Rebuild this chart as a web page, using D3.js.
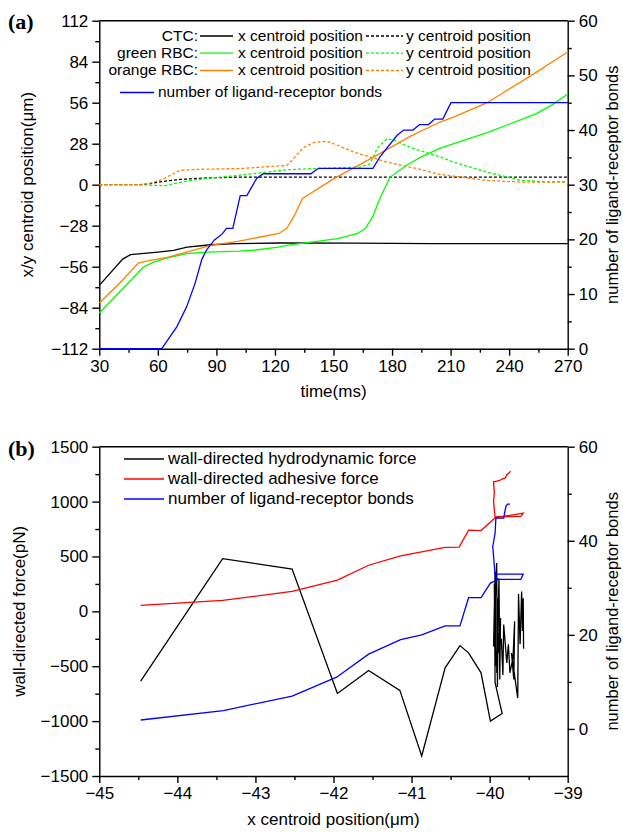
<!DOCTYPE html>
<html>
<head>
<meta charset="utf-8">
<script src="https://cdn.jsdelivr.net/npm/d3@7"></script>
<style>
	body { margin: 0; background: #fff; }
	svg { font-family: 'Liberation Sans', Arial, sans-serif; }
	.axis path, .axis line { stroke: #000; stroke-width: 1.4; }
	.axis text { font-size: 17px; fill: #000; }
	.series { fill: none; stroke-width: 1.3; }
	.dash { stroke-dasharray: 3, 2; }
</style>
</head>
<body>
<svg id="chart" width="623" height="832"></svg>
<script>
// ---- panel (a): time (ms) vs centroid position (um) / bond count ----
const ctcX = [[30, -68.8], [42, -50.8], [46, -47.8], [60, -46], [68, -44.9], [75, -42.6], [87, -41], [100, -40.2], [122, -39.8], [160, -39.9], [200, -40.3], [270, -40.3]]
const ctcY = [[30, 0], [51, 0], [56, 0.7], [64, 2.5], [71.4, 3.6], [85, 4.6], [102, 5.2], [270, 5.2]]
const greenX = [[30, -87.6], [41.5, -71.7], [52.6, -56.3], [57.7, -52.9], [65, -50], [74.8, -47.1], [85, -46], [102, -45.3], [110, -44.6], [121.7, -42.6], [126, -41.5], [152, -36.9], [162, -33.5], [166.3, -30], [170, -22], [174, -8.5], [179, 5.2], [187.6, 13.5], [195, 19], [204.7, 25], [228.7, 35.5], [254, 48.5], [262, 54.5], [270, 62]]
const greenY = [[30, 0], [51, 0], [58, -0.5], [64, -0.6], [70, 1.2], [76.5, 2.9], [92, 5.2], [102, 6.5], [126, 10.2], [138, 10.9], [163.7, 12], [168.8, 14.3], [172.3, 24.6], [177.4, 31.4], [180.8, 30.5], [189.4, 25.3], [204.7, 19], [211.5, 15.4], [228.7, 8.6], [245.8, 3], [258, 2], [270, 1.8]]
const orangeX = [[30, -80.8], [40.6, -67], [50, -53.5], [56, -51.7], [65.4, -49.4], [78, -44.9], [87, -41.5], [101, -38.7], [122, -33.3], [126, -30], [130, -21], [134, -9.6], [150, 4], [170, 18.5], [190, 33.5], [204.7, 42.8], [211.5, 46.2], [228.7, 56], [250, 73.5], [270, 90.6]]
const orangeY = [[30, 0], [51, 0], [56, 1], [62, 3.5], [71.4, 9.8], [80, 10.5], [102, 11], [126, 13.2], [128.7, 16.6], [134.6, 25.3], [140, 28.8], [145, 29.5], [148.3, 29], [160.3, 22.3], [177.4, 15.4], [194.5, 10.5], [204.7, 7], [211.5, 5.9], [228.7, 2.9], [245.8, 1.8], [270, 1.8]]
const bondsA = [[30, 0], [62, 0], [69.7, 4], [74.8, 7.7], [79.1, 12], [82.5, 16.3], [85, 18.1], [89, 19.9], [93, 21], [95.2, 22], [98.4, 22], [102.2, 28], [105.6, 28], [110.7, 31.2], [114, 32], [138.4, 32], [142.3, 33], [170.2, 33], [174, 35.2], [182.5, 39], [185.9, 40], [190.7, 40], [194.1, 41], [198.7, 41], [201.8, 42], [206, 42], [210.2, 45], [270, 45]]

const timeTicks = [30, 60, 90, 120, 150, 180, 210, 240, 270]
const posTicks = [-112, -84, -56, -28, 0, 28, 56, 84, 112]
const bondTicksA = [0, 10, 20, 30, 40, 50, 60]

// ---- panel (b): x centroid (um) vs wall-directed force (pN) / bond count ----
const hydroForce = [[-44.47, -636], [-43.42, 480], [-42.53, 385], [-41.95, -748], [-41.55, -539], [-41.15, -720], [-40.87, -1318], [-40.57, -515], [-40.38, -312], [-40.27, -378], [-40.11, -560], [-39.99, -1000], [-39.84, -930],
	[-39.93, -650], [-39.94, 250], [-39.92, -500], [-39.93, 360], [-39.95, -320], [-39.91, 440], [-39.9, -690], [-39.89, 120], [-39.91, -560], [-39.88, 300], [-39.87, -620], [-39.86, -60], [-39.9, -400], [-39.85, -250], [-39.83, -580], [-39.82, -120], [-39.78, -470], [-39.76, -300], [-39.74, -560], [-39.7, -420], [-39.68, -90], [-39.69, -620], [-39.72, -380], [-39.64, -790], [-39.63, 160], [-39.61, -300], [-39.59, 180], [-39.58, -180], [-39.57, 120], [-39.565, -340]]
const adhesiveForce = [[-44.47, 55], [-43.42, 100], [-42.53, 182], [-41.95, 285], [-41.55, 420], [-41.14, 506], [-40.57, 582], [-40.39, 585], [-40.27, 740], [-40.11, 736], [-39.93, 852], [-39.7, 879], [-39.57, 894], [-39.6, 866], [-39.88, 862], [-39.93, 860], [-39.95, 1000], [-39.94, 1080], [-39.95, 1180], [-39.92, 1185], [-39.88, 1190], [-39.84, 1205], [-39.8, 1215], [-39.78, 1245], [-39.75, 1262], [-39.73, 1278]]
const bondsB = [[-44.47, 1.9], [-43.41, 3.9], [-42.53, 7], [-41.96, 11], [-41.55, 15.9], [-41.14, 19], [-40.87, 20], [-40.57, 21.9], [-40.38, 21.9], [-40.27, 27.9], [-40.11, 27.9], [-39.99, 31], [-39.9, 31.7], [-39.93, 32.9], [-39.57, 32.9], [-39.6, 31.8], [-39.9, 31.8], [-39.93, 32.7], [-39.96, 38.8], [-39.93, 41.6], [-39.92, 44.8], [-39.82, 44.8], [-39.8, 46.6], [-39.79, 47.4], [-39.77, 47.8], [-39.74, 47.8]]

const xPosTicks = [-45, -44, -43, -42, -41, -40, -39]
const forceTicks = [-1500, -1000, -500, 0, 500, 1000, 1500]
const bondTicksB = [0, 20, 40, 60]

const svg = d3.select('#chart')
const left = 99.3
const right = 567.7
const aTop = 20.7, aBottom = 348.7
const bTop = 446.7, bBottom = 776

const xA = d3.scaleLinear().domain([30, 270]).range([left, right])
const yA = d3.scaleLinear().domain([-112, 112]).range([aBottom, aTop])
const yA2 = d3.scaleLinear().domain([0, 60]).range([aBottom, aTop])
const xB = d3.scaleLinear().domain([-45, -39]).range([left, right])
const yB = d3.scaleLinear().domain([-1500, 1500]).range([bBottom, bTop])
const yB2 = d3.scaleLinear().domain([-10, 60]).range([bBottom, bTop])

// minor ticks = midpoints between major ticks
function mids(ticks) {
	return ticks.slice(1).map((t, i) => (t + ticks[i]) / 2)
}

function addAxis(axisFn, scale, ticks, minor, tx, ty) {
	const g = svg.append('g').attr('class', 'axis').attr('transform', `translate(${tx},${ty})`)
	g.call(axisFn(scale).tickValues(ticks).tickSize(7).tickSizeOuter(0).tickPadding(4).tickFormat(d3.format('d')))
	g.append('g')
		.call(axisFn(scale).tickValues(minor).tickSize(4).tickSizeOuter(0).tickFormat(''))
		.call((m) => m.select('.domain').remove())
	g.selectAll('text').attr('font-family', null).attr('font-size', null)
	return g
}

function frameTop(y) {
	svg.append('line').attr('x1', left).attr('x2', right).attr('y1', y).attr('y2', y)
		.attr('stroke', '#000').attr('stroke-width', 1.4)
}

function drawSeries(data, x, y, color, dashed) {
	svg.append('path')
		.datum(data)
		.attr('class', dashed ? 'series dash' : 'series')
		.attr('stroke', color)
		.attr('d', d3.line().x((d) => x(d[0])).y((d) => y(d[1])))
}

function label(text, x, y, opts = {}) {
	const t = svg.append('text').attr('x', x).attr('y', y).text(text)
		.attr('font-size', opts.size || 17)
		.attr('text-anchor', opts.anchor || 'start')
	if (opts.rotate) t.attr('transform', `rotate(-90,${x},${y})`).attr('dy', '0.35em')
	if (opts.serif) t.attr('font-family', "'Liberation Serif', 'Times New Roman', serif").attr('font-weight', 'bold')
	return t
}

const green = '#00ff00', orange = '#ff8000', blue = '#0000ff', red = '#ff0000'

// panel (a)
frameTop(aTop)
addAxis(d3.axisBottom, xA, timeTicks, mids(timeTicks), 0, aBottom)
addAxis(d3.axisLeft, yA, posTicks, mids(posTicks), left, 0)
addAxis(d3.axisRight, yA2, bondTicksA, mids(bondTicksA), right, 0)

drawSeries(ctcY, xA, yA, '#000', true)
drawSeries(greenY, xA, yA, green, true)
drawSeries(orangeY, xA, yA, orange, true)
drawSeries(ctcX, xA, yA, '#000')
drawSeries(greenX, xA, yA, green)
drawSeries(orangeX, xA, yA, orange)
drawSeries(bondsA, xA, yA2, blue)

label('(a)', 8, 29, { size: 22, serif: true })
label('x/y centroid position(\u03bcm)', 27, (aTop + aBottom) / 2, { anchor: 'middle', rotate: true })
label('number of ligand-receptor bonds', 612, (aTop + aBottom) / 2, { size: 16.5, anchor: 'middle', rotate: true })
label('time(ms)', (left + right) / 2, 397, { anchor: 'middle' })

// legend (a)
const legendA = [
	{ name: 'CTC:', color: '#000', y: 40.5 },
	{ name: 'green RBC:', color: green, y: 57.7 },
	{ name: 'orange RBC:', color: orange, y: 75 }
]
legendA.forEach((r) => {
	label(r.name, 198, r.y, { size: 15.5, anchor: 'end' })
	svg.append('line').attr('x1', 200).attr('x2', 233).attr('y1', r.y - 4.5).attr('y2', r.y - 4.5)
		.attr('stroke', r.color).attr('stroke-width', 1.3)
	label('x centroid position', 238, r.y, { size: 15.5 })
	svg.append('line').attr('class', 'dash').attr('x1', 366).attr('x2', 403).attr('y1', r.y - 4.5).attr('y2', r.y - 4.5)
		.attr('stroke', r.color).attr('stroke-width', 1.3)
	label('y centroid position', 406, r.y, { size: 15.5 })
})
svg.append('line').attr('x1', 120).attr('x2', 154).attr('y1', 92.5).attr('y2', 92.5)
	.attr('stroke', blue).attr('stroke-width', 1.3)
label('number of ligand-receptor bonds', 158, 97, { size: 15.5 })

// panel (b)
frameTop(bTop)
addAxis(d3.axisBottom, xB, xPosTicks, mids(xPosTicks), 0, bBottom)
addAxis(d3.axisLeft, yB, forceTicks, mids(forceTicks), left, 0)
addAxis(d3.axisRight, yB2, bondTicksB, mids(bondTicksB), right, 0)

drawSeries(hydroForce, xB, yB, '#000')
drawSeries(adhesiveForce, xB, yB, red)
drawSeries(bondsB, xB, yB2, blue)

label('(b)', 8, 456, { size: 22, serif: true })
label('wall-directed force(pN)', 19, (bTop + bBottom) / 2, { anchor: 'middle', rotate: true })
label('number of ligand-receptor bonds', 612, (bTop + bBottom) / 2, { size: 16.5, anchor: 'middle', rotate: true })
label('x centroid position(\u03bcm)', (left + right) / 2, 825, { anchor: 'middle' })

const legendB = [
	{ name: 'wall-directed hydrodynamic force', color: '#000', y: 464 },
	{ name: 'wall-directed adhesive force', color: red, y: 484 },
	{ name: 'number of ligand-receptor bonds', color: blue, y: 504 }
]
legendB.forEach((r) => {
	svg.append('line').attr('x1', 124).attr('x2', 164).attr('y1', r.y - 5).attr('y2', r.y - 5)
		.attr('stroke', r.color).attr('stroke-width', 1.3)
	label(r.name, 168, r.y, { size: 17 })
})
</script>
</body>
</html>
